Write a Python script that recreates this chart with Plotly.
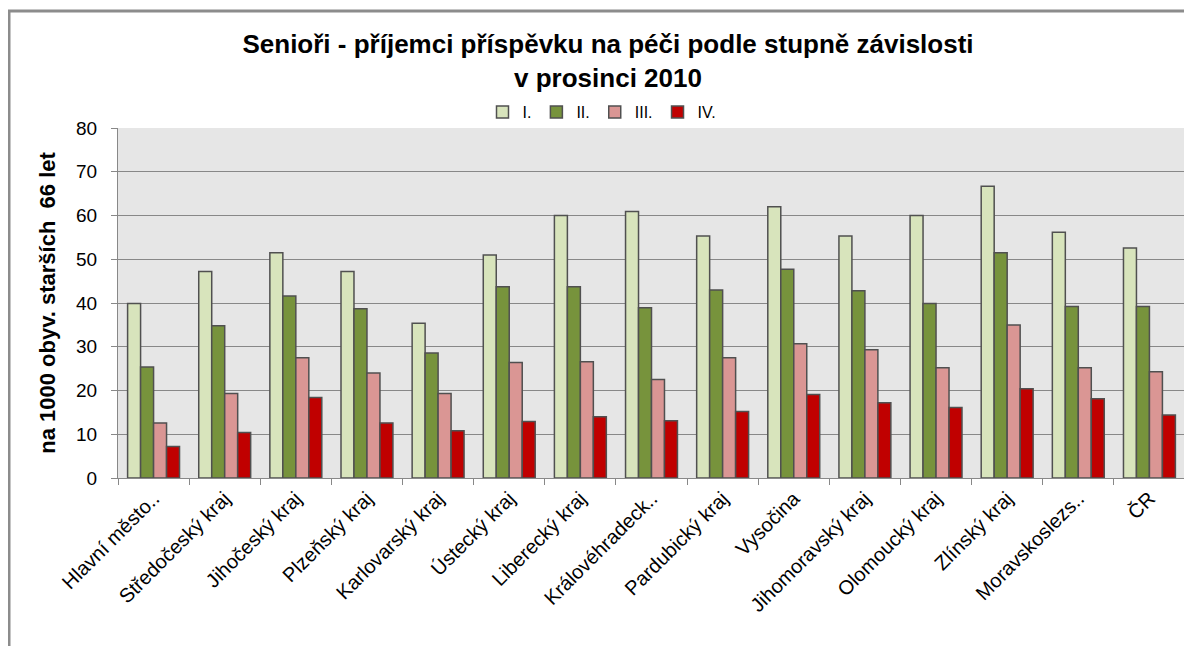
import plotly.graph_objects as go

categories = ["Hlavní město..", "Středočeský kraj", "Jihočeský kraj", "Plzeňský kraj",
              "Karlovarský kraj", "Ústecký kraj", "Liberecký kraj", "Královéhradeck..",
              "Pardubický kraj", "Vysočina", "Jihomoravský kraj", "Olomoucký kraj",
              "Zlínský kraj", "Moravskoslezs..", "ČR"]
st_I   = [39.9, 47.2, 51.5, 47.2, 35.4, 51.0, 60.0, 60.9, 55.3, 62.0, 55.3, 60.0, 66.7, 56.2, 52.6]
st_II  = [25.4, 34.8, 41.6, 38.7, 28.6, 43.7, 43.7, 38.9, 43.0, 47.7, 42.8, 39.9, 51.5, 39.2, 39.2]
st_III = [12.6, 19.3, 27.5, 24.0, 19.3, 26.4, 26.6, 22.5, 27.5, 30.7, 29.3, 25.2, 35.0, 25.2, 24.3]
st_IV  = [7.2, 10.4, 18.4, 12.6, 10.8, 12.9, 14.0, 13.1, 15.2, 19.1, 17.2, 16.1, 20.4, 18.1, 14.4]
series_names = ["I.", "II.", "III.", "IV."]
y_ticks = [0, 10, 20, 30, 40, 50, 60, 70, 80]

colors = ["#D8E4BC", "#77933C", "#DA9694", "#C00000"]
FONT = "Liberation Sans, Arial, sans-serif"

fig = go.Figure()
for name, vals, col in zip(series_names, [st_I, st_II, st_III, st_IV], colors):
    fig.add_trace(go.Bar(
        x=categories, y=vals, name=name,
        marker=dict(color=col, line=dict(color="#505050", width=1.5)),
    ))

OFF = 8  # page body margin
W, H = 1192 - OFF, 646 - OFF
# plot area in reference (screen) pixels: x 118..1185, y 128..478
L = 118 - OFF
T = 128 - OFF
R = W - (1185 - OFF)
B = H - (478 - OFF)
pw, ph = W - L - R, H - T - B

def px(x):  # screen x -> paper
    return (x - OFF - L) / pw

def py(y):  # screen y -> paper
    return (H - B - (y - OFF)) / ph

fig.update_layout(
    width=W, height=H,
    margin=dict(l=L, r=R, t=T, b=B),
    paper_bgcolor="white",
    plot_bgcolor="#E6E6E6",
    barmode="group",
    bargap=0.27,
    bargroupgap=0,
    font=dict(family=FONT, color="black"),
    title=dict(
        text="Senioři - příjemci příspěvku na péči podle stupně závislosti<br>v prosinci 2010",
        font=dict(family=FONT, size=26, color="black", weight="bold"),
        x=(608 - OFF) / W, xanchor="center", xref="container",
        y=1 - 45 / H, yanchor="top", yref="container",
    ),
    legend=dict(
        orientation="h",
        x=px(602), xanchor="center",
        y=py(112), yanchor="middle",
        font=dict(family=FONT, size=16, color="black"),
        itemwidth=30,
        bgcolor="rgba(0,0,0,0)",
        tracegroupgap=0,
    ),
    showlegend=True,
    xaxis=dict(
        type="category",
        tickangle=-45,
        tickfont=dict(family=FONT, size=20, color="black"),
        showline=True, linecolor="#888888", linewidth=1,
        ticks="outside", ticklen=6, tickcolor="#888888",
        tickson="boundaries",
        showgrid=False,
    ),
    yaxis=dict(
        range=[0, 80],
        tickvals=y_ticks,
        tickfont=dict(family=FONT, size=19, color="black"),
        ticklabelstandoff=10,
        showline=True, linecolor="#888888", linewidth=1,
        ticks="outside", ticklen=6, tickcolor="#888888",
        showgrid=True, gridcolor="#888888", gridwidth=1,
        zeroline=False,
        title=dict(text="na 1000 obyv. starších  66 let",
                   font=dict(family=FONT, size=22, color="black", weight="bold"),
                   standoff=14),
    ),
    shapes=[
        dict(type="line", xref="paper", yref="paper",
             x0=px(9), x1=px(9), y0=py(10), y1=py(660),
             line=dict(color="#8C8C8C", width=3)),
        dict(type="line", xref="paper", yref="paper",
             x0=px(8), x1=px(1210), y0=py(11), y1=py(11),
             line=dict(color="#8C8C8C", width=3)),
    ],
)

fig.write_html("out.html")
